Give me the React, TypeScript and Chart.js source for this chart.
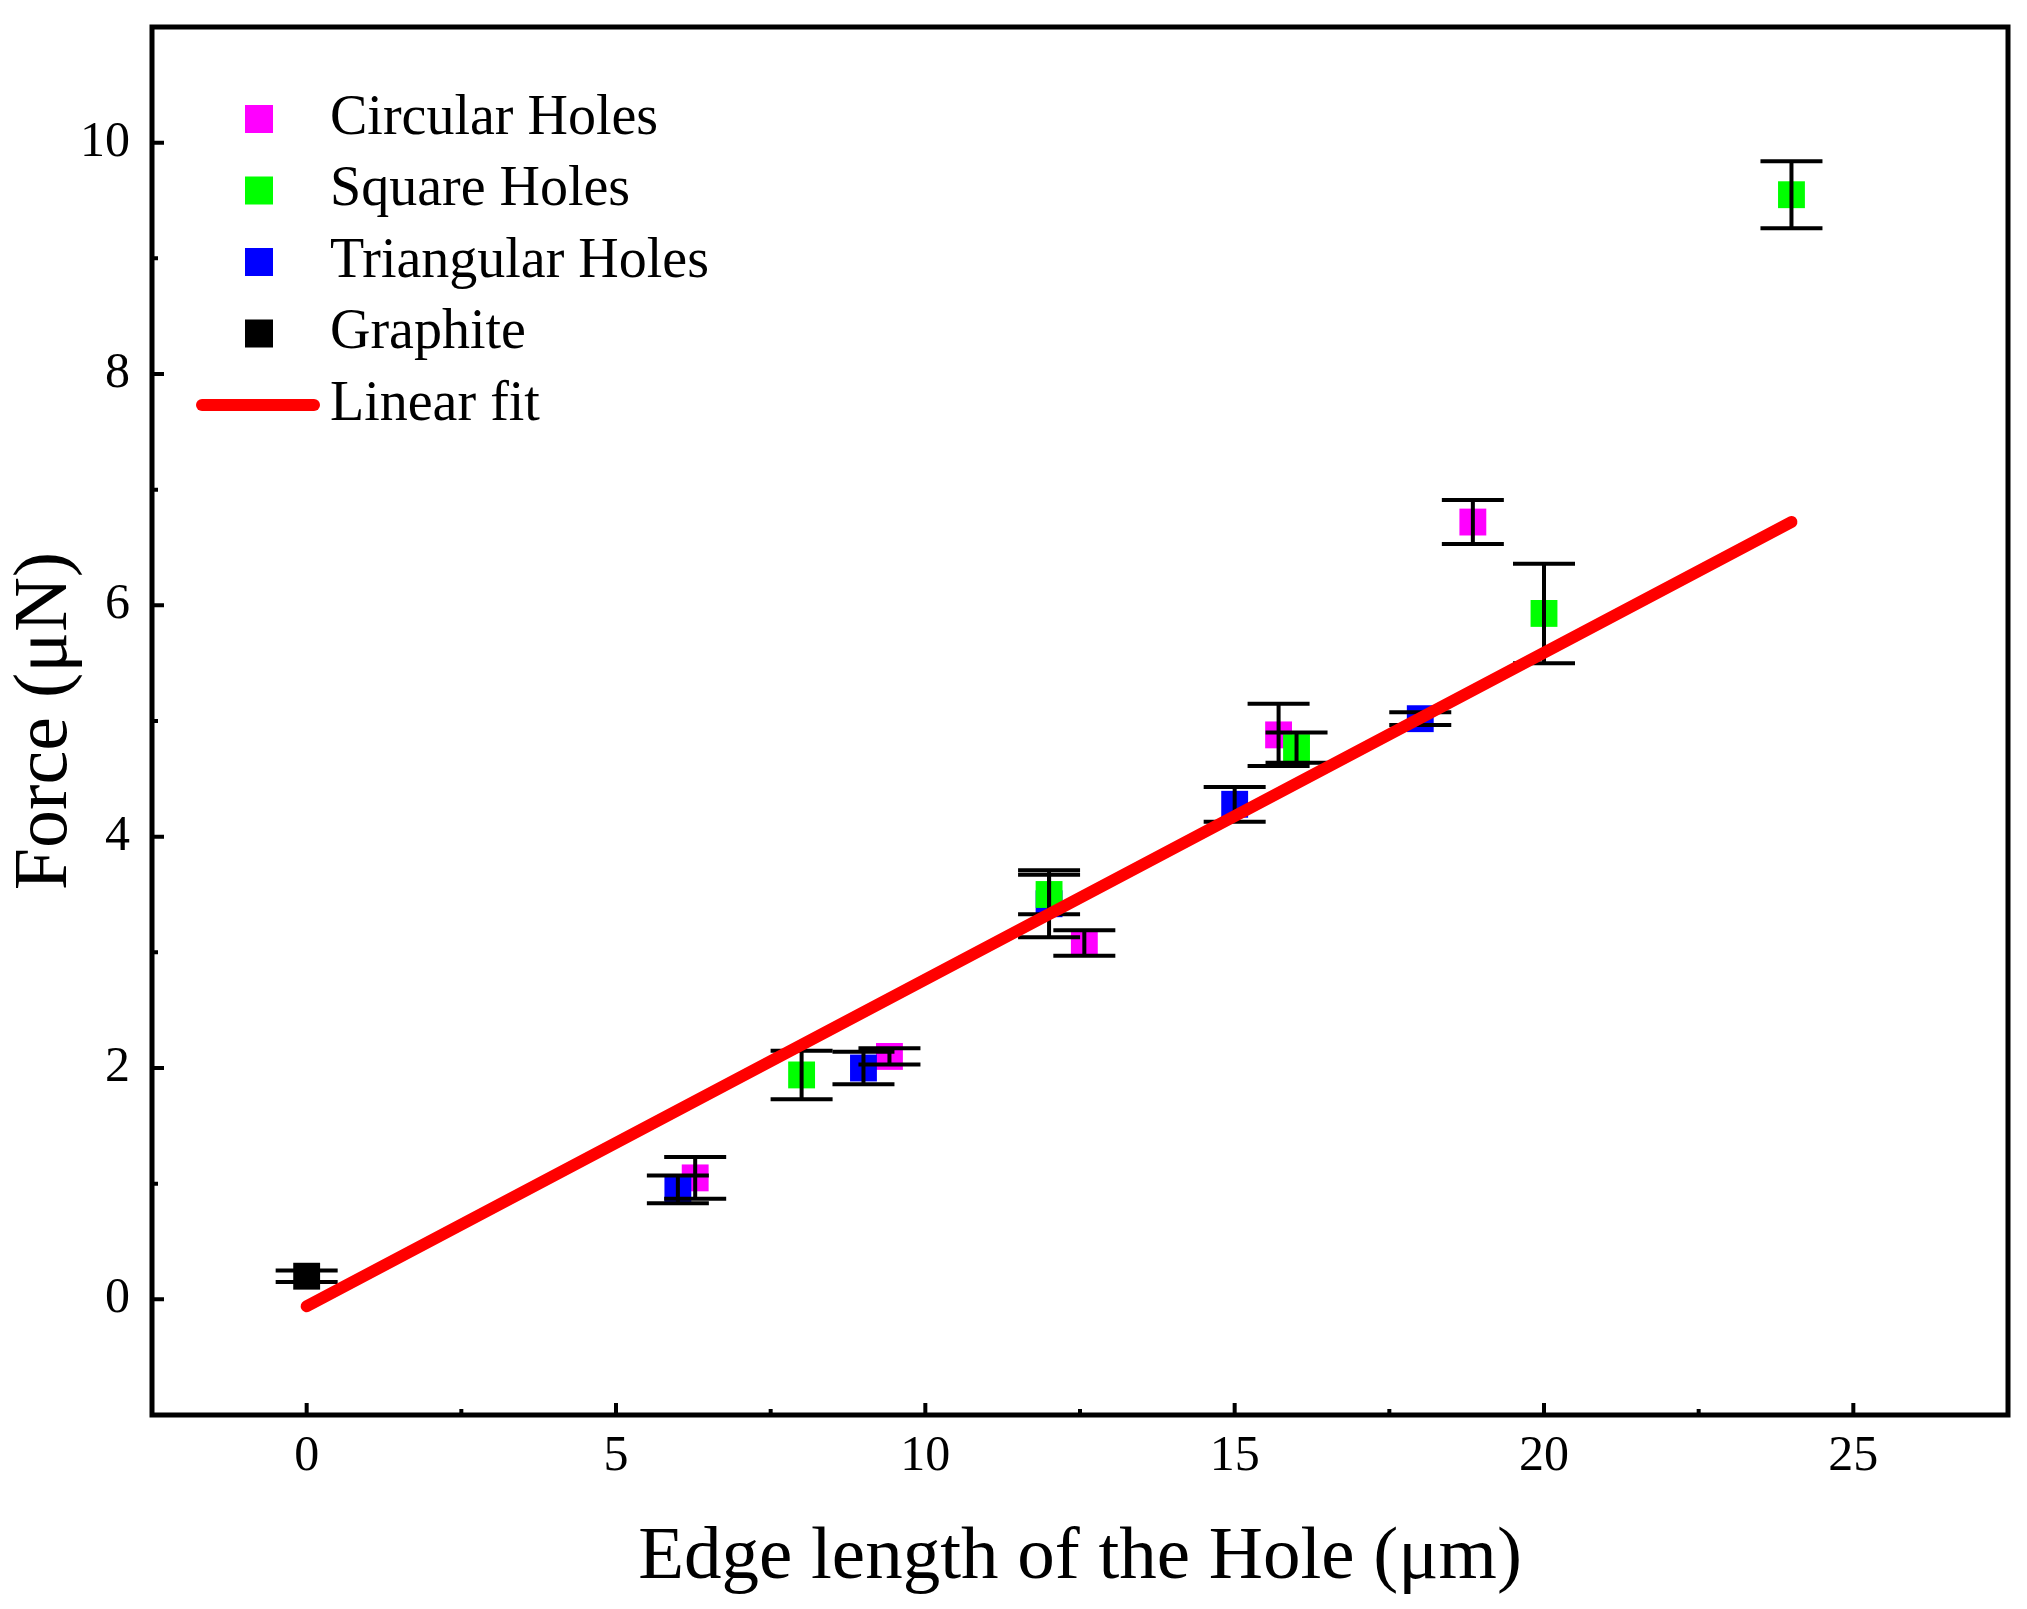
import React, { useRef, useEffect } from "react";
import Chart from "chart.js/auto";

// data
const circularX = [6.28, 9.42, 12.57, 15.71, 18.85];
const circularY = [1.05, 2.1, 3.08, 4.88, 6.72];
const circularErr = [0.18, 0.07, 0.11, 0.27, 0.19];

const squareX = [8, 12, 16, 20, 24];
const squareY = [1.94, 3.5, 4.77, 5.93, 9.55];
const squareErr = [0.21, 0.17, 0.13, 0.43, 0.29];

const triangularX = [6, 9, 12, 15, 18];
const triangularY = [0.95, 2.0, 3.42, 4.28, 5.02];
const triangularErr = [0.12, 0.14, 0.29, 0.15, 0.055];

const graphiteX = [0];
const graphiteY = [0.2];
const graphiteErr = [0.05];

const fitX = [0, 24];
const fitY = [-0.06, 6.72];

const xTickLabels = [0, 5, 10, 15, 20, 25];
const yTickLabels = [0, 2, 4, 6, 8, 10];

const FONT = "'Liberation Serif', 'Times New Roman', serif";

const toXY = (xs: number[], ys: number[]) => xs.map((x, i) => ({ x, y: ys[i] }));

const errorSets = [
  { xs: circularX, ys: circularY, errs: circularErr },
  { xs: squareX, ys: squareY, errs: squareErr },
  { xs: triangularX, ys: triangularY, errs: triangularErr },
  { xs: graphiteX, ys: graphiteY, errs: graphiteErr },
];

// error bars go above the markers but under the fit line
const errorBarPlugin = {
  id: "errorBars",
  beforeDatasetDraw(chart: any, args: any) {
    if (args.index !== 4) return;
    const { ctx, scales } = chart;
    const xs = scales.x;
    const ys = scales.y;
    ctx.save();
    ctx.strokeStyle = "#000";
    ctx.lineWidth = 4;
    errorSets.forEach((set) => {
      set.xs.forEach((xv, i) => {
        const px = xs.getPixelForValue(xv);
        const top = ys.getPixelForValue(set.ys[i] + set.errs[i]);
        const bot = ys.getPixelForValue(set.ys[i] - set.errs[i]);
        ctx.beginPath();
        ctx.moveTo(px, top);
        ctx.lineTo(px, bot);
        ctx.moveTo(px - 31, top);
        ctx.lineTo(px + 31, top);
        ctx.moveTo(px - 31, bot);
        ctx.lineTo(px + 31, bot);
        ctx.stroke();
      });
    });
    ctx.restore();
  },
};

// box frame, inward ticks and legend
const framePlugin = {
  id: "frame",
  afterDraw(chart: any) {
    const { ctx, chartArea, scales } = chart;
    const { left, right, top, bottom } = chartArea;
    ctx.save();
    ctx.strokeStyle = "#000";
    ctx.lineWidth = 5;
    ctx.strokeRect(left, top, right - left, bottom - top);

    ctx.lineWidth = 4;
    ctx.beginPath();
    scales.x.ticks.forEach((t: any) => {
      const px = scales.x.getPixelForValue(t.value);
      if (px <= left + 3 || px >= right - 3) return;
      const len = xTickLabels.includes(t.value) ? 12 : 6;
      ctx.moveTo(px, bottom);
      ctx.lineTo(px, bottom - len);
    });
    scales.y.ticks.forEach((t: any) => {
      const py = scales.y.getPixelForValue(t.value);
      if (py <= top + 3 || py >= bottom - 3) return;
      const len = yTickLabels.includes(t.value) ? 12 : 6;
      ctx.moveTo(left, py);
      ctx.lineTo(left + len, py);
    });
    ctx.stroke();

    // legend
    const rows = chart.data.datasets;
    const markerX = 259;
    const textX = 330;
    ctx.font = `56px ${FONT}`;
    ctx.textBaseline = "middle";
    ctx.textAlign = "left";
    rows.forEach((d: any, i: number) => {
      const y = 119 + i * 71.5;
      if (d.showLine) {
        ctx.strokeStyle = d.borderColor;
        ctx.lineWidth = 12;
        ctx.lineCap = "round";
        ctx.beginPath();
        ctx.moveTo(202, y);
        ctx.lineTo(314, y);
        ctx.stroke();
      } else {
        ctx.fillStyle = d.backgroundColor;
        ctx.fillRect(markerX - 14, y - 14, 28, 28);
      }
      ctx.fillStyle = "#000";
      ctx.fillText(d.label, textX, y);
    });
    ctx.restore();
  },
};

export default function App() {
  const chartRef = useRef<HTMLCanvasElement | null>(null);
  const chartInstanceRef = useRef<Chart | null>(null);

  useEffect(() => {
    if (!chartRef.current) return;
    const ctx = chartRef.current.getContext("2d");
    if (!ctx) return;
    if (chartInstanceRef.current) chartInstanceRef.current.destroy();

    const marker = (color: string, order: number) => ({
      backgroundColor: color,
      borderColor: color,
      pointStyle: "rect" as const,
      pointRadius: 19,
      pointHoverRadius: 19,
      pointBorderWidth: 0,
      showLine: false,
      order,
    });

    // higher order is drawn first: magenta, then blue, then green on top
    chartInstanceRef.current = new Chart(ctx, {
      type: "scatter",
      data: {
        datasets: [
          { label: "Circular Holes", data: toXY(circularX, circularY), ...marker("#ff00ff", 4) },
          { label: "Square Holes", data: toXY(squareX, squareY), ...marker("#00ff00", 2) },
          { label: "Triangular Holes", data: toXY(triangularX, triangularY), ...marker("#0000ff", 3) },
          { label: "Graphite", data: toXY(graphiteX, graphiteY), ...marker("#000000", 1) },
          {
            label: "Linear fit",
            data: toXY(fitX, fitY),
            showLine: true,
            borderColor: "#ff0000",
            backgroundColor: "#ff0000",
            borderWidth: 12,
            borderCapStyle: "round",
            pointRadius: 0,
            pointHoverRadius: 0,
            order: 0,
          },
        ],
      },
      options: {
        responsive: false,
        animation: false,
        layout: { padding: { left: 0, top: 27, right: 15, bottom: 0 } },
        plugins: {
          legend: { display: false },
          tooltip: { enabled: false },
        },
        scales: {
          x: {
            type: "linear",
            min: -2.5,
            max: 27.5,
            grid: { display: false },
            border: { display: false },
            ticks: {
              stepSize: 2.5,
              autoSkip: false,
              maxRotation: 0,
              padding: 4,
              color: "#000",
              font: { family: FONT, size: 50 },
              callback: (v: any) => (xTickLabels.includes(Number(v)) ? String(v) : ""),
            },
            title: {
              display: true,
              text: "Edge length of the Hole (μm)",
              color: "#000",
              font: { family: FONT, size: 75 },
              padding: { top: 0, bottom: 6 },
            },
            afterFit: (s: any) => {
              s.height = 194;
              s.paddingLeft = 0;
              s.paddingRight = 0;
            },
          },
          y: {
            type: "linear",
            min: -1,
            max: 11,
            grid: { display: false },
            border: { display: false },
            ticks: {
              stepSize: 1,
              autoSkip: false,
              padding: 14,
              color: "#000",
              font: { family: FONT, size: 50 },
              callback: (v: any) => (yTickLabels.includes(Number(v)) ? String(v) : ""),
            },
            title: {
              display: true,
              text: "Force (μN)",
              color: "#000",
              font: { family: FONT, size: 76 },
              padding: { top: 0, bottom: 0 },
            },
            afterFit: (s: any) => {
              s.width = 152;
              s.paddingTop = 0;
              s.paddingBottom = 0;
            },
          },
        },
      } as any,
      plugins: [errorBarPlugin, framePlugin],
    });

    return () => {
      if (chartInstanceRef.current) {
        chartInstanceRef.current.destroy();
        chartInstanceRef.current = null;
      }
    };
  }, []);

  return (
    <div style={{ position: "absolute", left: 0, top: 0, width: 2027, height: 1609, background: "#fff" }}>
      <canvas ref={chartRef} width={2027} height={1609} style={{ width: 2027, height: 1609, display: "block" }} />
    </div>
  );
}
